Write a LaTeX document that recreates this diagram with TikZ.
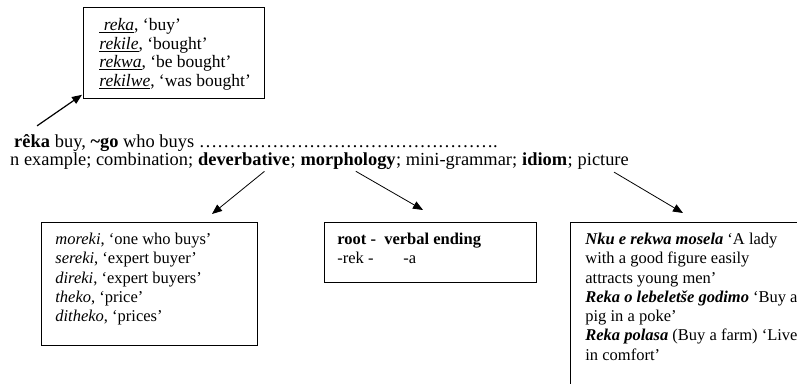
\documentclass[tikz,border=0pt]{standalone}
\usepackage{fontspec}
\setmainfont{Liberation Serif}
\usetikzlibrary{arrows.meta,calc}
\newcommand\myboxtext[4]{\parbox[t][#1][t]{#2}{\leftskip=#3\relax #4}}
\begin{document}
\begin{tikzpicture}[x=1pt,y=-1pt,
  box/.style={draw, line width=0.8pt, anchor=north west, inner xsep=0pt, inner ysep=8.5pt},
  txt/.style={inner sep=0pt, anchor=base west, font=\fontsize{18.4}{18}\selectfont},
  arr/.style={line width=0.8pt, -{Triangle[length=10pt,width=8pt]}},
  ]
\useasboundingbox (0,0) rectangle (797,383);
\clip (0,0) rectangle (797,383);

% top box
\node[box, inner ysep=10pt] (tbox) at (83,7)
 {\myboxtext{71pt}{181pt}{16pt}{\fontsize{17.5}{18.7}\selectfont\strut\underline{\ \textit{reka}}, ‘buy’\\
  \underline{\textit{rekile}}, ‘bought’\\
  \underline{\textit{rekwa}}, ‘be bought’\\
  \underline{\textit{rekilwe}}, ‘was bought’}};

% line 1
\def\e{…}
\node[txt] (l1a) at (14,147) {\textbf{rêka}};
\node[txt] (l1b) at (l1a.base east) {\ buy, \textbf{\textasciitilde go} who buys \e\e\e\e\e\e\e\e\e\e\e\e\e\e\e\e.};

% line 2
\node[txt] (l2a) at (10,165) {n example; combination;\ \null};
\node[txt] (dev) at (l2a.base east) {\textbf{deverbative}};
\node[txt] (l2b) at (dev.base east) {;\ \null};
\node[txt] (mor) at (l2b.base east) {\textbf{morphology}};
\node[txt] (l2c) at (mor.base east) {; mini-grammar;\ \null};
\node[txt] (idi) at (l2c.base east) {\textbf{idiom}};
\node[txt] (l2d) at (idi.base east) {;\ \null};
\node[txt] (pic) at (l2d.base east) {picture};

% left box
\node[box] (lbox) at (41,222)
 {\myboxtext{106pt}{216pt}{14pt}{\fontsize{16.5}{19.3}\selectfont\strut\textit{moreki}, ‘one who buys’\\
  \textit{sereki}, ‘expert buyer’\\
  \textit{direki}, ‘expert buyers’\\
  \textit{theko}, ‘price’\\
  \textit{ditheko}, ‘prices’}};

% middle box
\node[box] (mbox) at (324,222)
 {\myboxtext{43pt}{212pt}{13pt}{\fontsize{16.5}{19.3}\selectfont\strut\textbf{root -\ \ verbal ending}\\
  \makebox[66pt][l]{-rek -}-a}};

% right box (runs off the page)
\node[box] (rbox) at (570,222)
 {\myboxtext{250pt}{260pt}{15pt}{\fontsize{16.5}{19.3}\selectfont\strut\textbf{\textit{Nku e rekwa mosela}} ‘A lady\\
  with a good figure easily\\
  attracts young men’\\
  \textbf{\textit{Reka o lebeletše godimo}} ‘Buy a\\
  pig in a poke’\\
  \textbf{\textit{Reka polasa}} (Buy a farm) ‘Live\\
  in comfort’}};

% arrows
\draw[arr, line width=1.2pt] ([xshift=5pt,yshift=8pt]l1a.north) -- ([xshift=-1pt,yshift=4pt]tbox.south west);
\draw[arr] ($(dev.south west)!0.72!(dev.south east)+(0,6)$) -- ([xshift=171pt,yshift=8pt]lbox.north west);
\draw[arr] ($(mor.south west)!0.58!(mor.south east)+(0,2)$) -- ([xshift=99pt,yshift=12pt]mbox.north west);
\draw[arr] ($(pic.south west)!0.71!(pic.south east)+(0,3)$) -- ([xshift=113pt,yshift=9pt]rbox.north west);
\end{tikzpicture}
\end{document}
